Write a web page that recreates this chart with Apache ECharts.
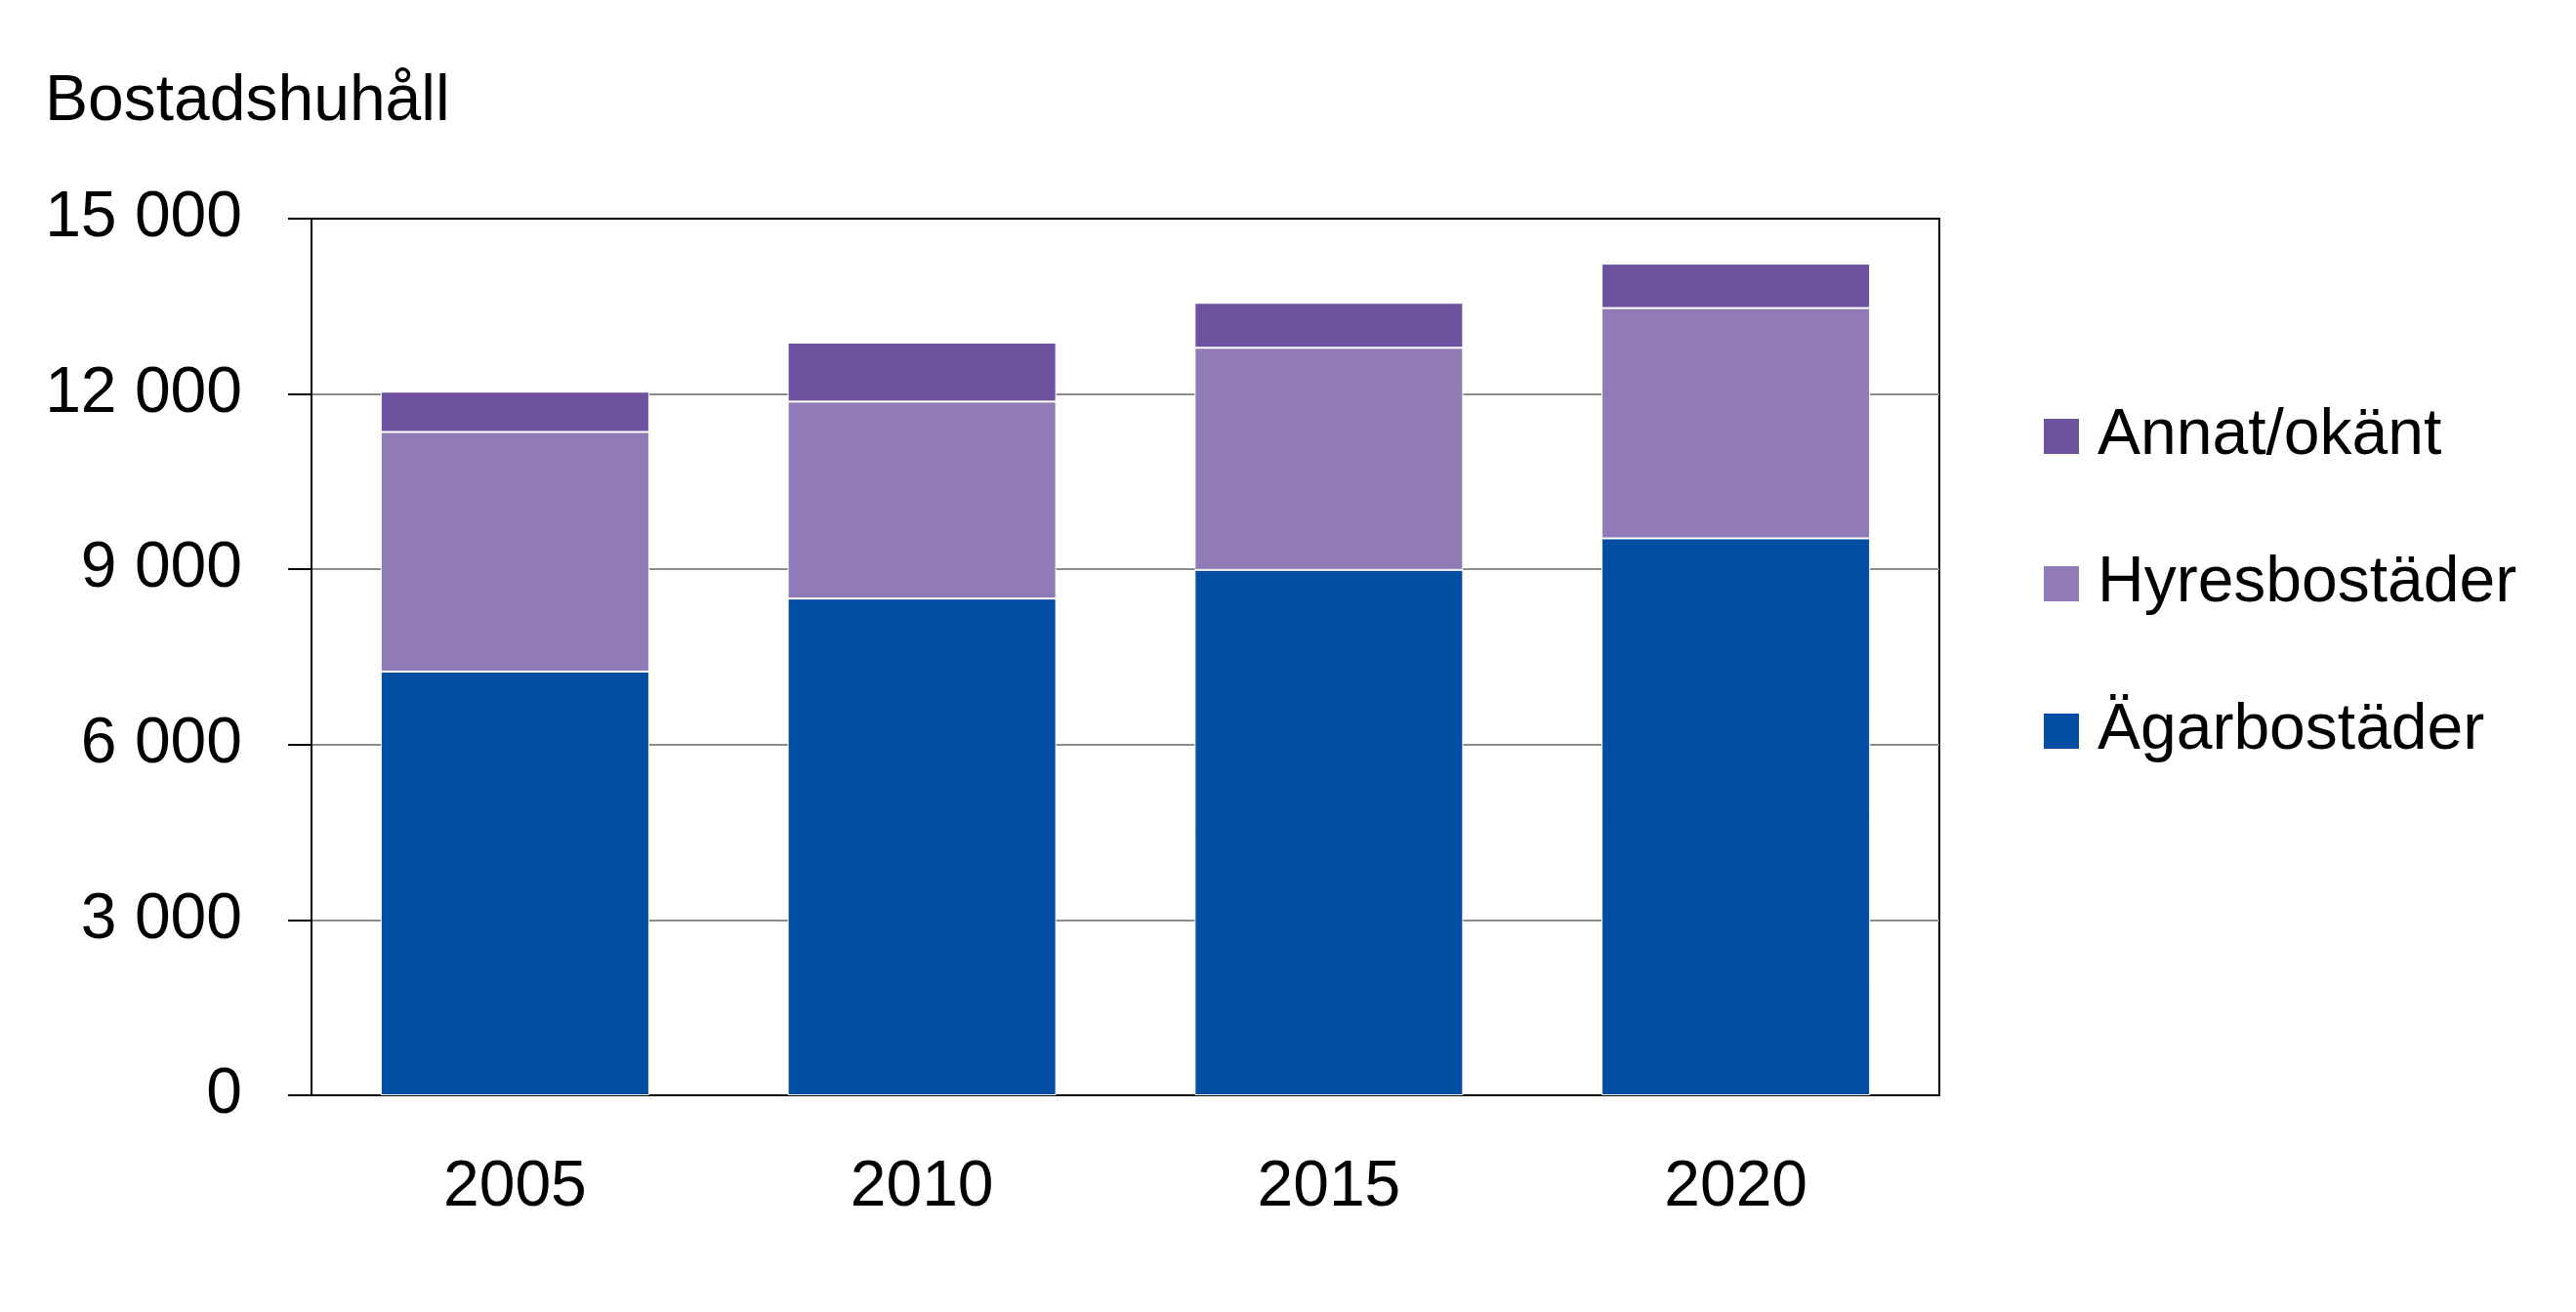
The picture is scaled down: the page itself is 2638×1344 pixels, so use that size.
<!DOCTYPE html>
<html>
<head>
<meta charset="utf-8">
<script src="https://cdn.jsdelivr.net/npm/echarts@6/dist/echarts.min.js"></script>
<style>
html,body{margin:0;padding:0;background:#fff;}
#chart{width:2638px;height:1344px;}
</style>
</head>
<body>
<div id="chart"></div>
<script>
const categories = ['2005', '2010', '2015', '2020'];
const agarbostader = [7250, 8500, 8990, 9530];
const hyresbostader = [4100, 3370, 3800, 3940];
const annatOkant = [690, 1010, 770, 760];
const yTicks = [0, 3000, 6000, 9000, 12000, 15000];
const yTitle = 'Bostadshuhåll';
const seriesNames = ['Ägarbostäder', 'Hyresbostäder', 'Annat/okänt'];
const colors = ['#034EA2', '#907BB7', '#6F529F'];

const FONT = '"Liberation Sans", Arial, sans-serif';
const chart = echarts.init(document.getElementById('chart'));

function fmt(v) {
  return String(v).replace(/\B(?=(\d{3})+(?!\d))/g, ' ');
}

const dataSets = [agarbostader, hyresbostader, annatOkant];
const yMin = yTicks[0], yMax = yTicks[yTicks.length - 1], yStep = yTicks[1] - yTicks[0];

chart.setOption({
  animation: false,
  backgroundColor: '#ffffff',
  title: {
    text: yTitle,
    left: 46,
    top: 72,
    padding: 0,
    textStyle: { fontFamily: FONT, fontSize: 66, fontWeight: 'normal', color: '#000' }
  },
  legend: {
    orient: 'vertical',
    left: 2091,
    top: 414,
    padding: 0,
    itemWidth: 38,
    itemHeight: 38,
    itemGap: 85,
    icon: 'rect',
    data: [seriesNames[2], seriesNames[1], seriesNames[0]],
    textStyle: { fontFamily: FONT, fontSize: 66, color: '#000', padding: [0, 0, 0, 13] }
  },
  grid: {
    left: 319,
    right: 652,
    top: 224,
    bottom: 222,
    show: true,
    borderColor: '#000',
    borderWidth: 2,
    backgroundColor: 'transparent'
  },
  xAxis: {
    type: 'category',
    data: categories,
    axisLine: { show: true, lineStyle: { color: '#000', width: 2 } },
    axisTick: { show: false },
    axisLabel: { margin: 62, fontFamily: FONT, fontSize: 66, color: '#000' }
  },
  yAxis: {
    type: 'value',
    min: yMin,
    max: yMax,
    interval: yStep,
    axisLine: { show: true, lineStyle: { color: '#000', width: 2 } },
    axisTick: { show: true, inside: false, length: 24, lineStyle: { color: '#000', width: 2 } },
    splitLine: { show: true, showMinLine: false, showMaxLine: false, lineStyle: { color: '#8c8c8c', width: 2 } },
    axisLabel: { margin: 71, fontFamily: FONT, fontSize: 66, color: '#000', formatter: fmt }
  },
  series: seriesNames.map((name, i) => ({
    name: name,
    type: 'bar',
    stack: 'total',
    barWidth: '66%',
    data: dataSets[i],
    itemStyle: { color: colors[i], borderColor: '#ffffff', borderWidth: 1 }
  }))
});
</script>
</body>
</html>
